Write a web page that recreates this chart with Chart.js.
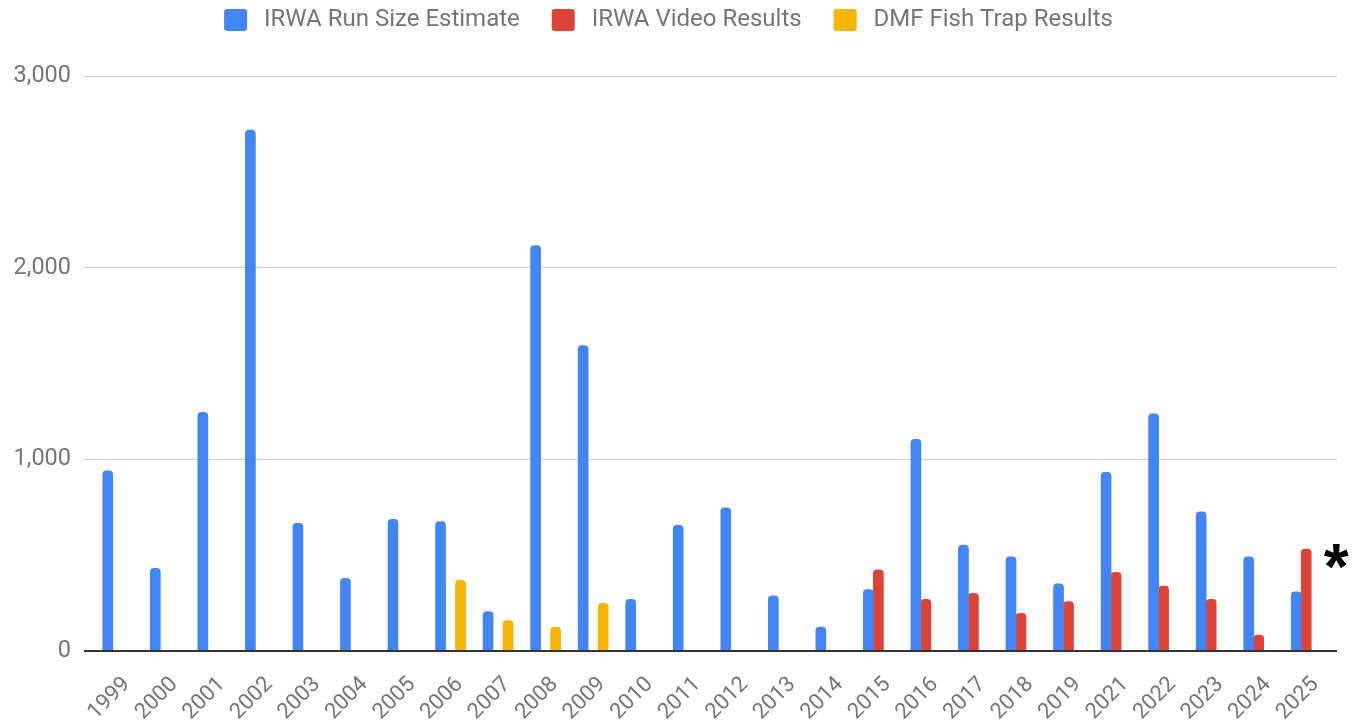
<!DOCTYPE html>
<html>
<head>
<meta charset="utf-8">
<script src="https://cdn.jsdelivr.net/npm/chart.js@4.4.0/dist/chart.umd.min.js"></script>
<style>
  html, body { margin: 0; padding: 0; background: #fff; }
</style>
</head>
<body>
<canvas id="myChart" width="1354" height="720"></canvas>
<script>
const years = ['1999', '2000', '2001', '2002', '2003', '2004', '2005', '2006', '2007', '2008',
  '2009', '2010', '2011', '2012', '2013', '2014', '2015', '2016', '2017', '2018', '2019',
  '2021', '2022', '2023', '2024', '2025'];
const runSize = [940, 430, 1245, 2720, 666, 378, 686, 674, 204, 2116,
  1594, 269, 655, 747, 287, 124, 319, 1104, 552, 491, 350,
  932, 1237, 726, 491, 308];
const videoResults = [null, null, null, null, null, null, null, null, null, null,
  null, null, null, null, null, null, 422, 269, 300, 195, 256,
  410, 338, 269, 82, 531];
const trapResults = [null, null, null, null, null, null, null, 368, 157, 122,
  248, null, null, null, null, null, null, null, null, null, null,
  null, null, null, null, null];
const yTicks = [0, 1000, 2000, 3000];
const note = '*';

const grey = '#757575';
const gridColor = c => (c.tick && c.tick.value === 0 ? '#333333' : '#cccccc');
const gridWidth = c => (c.tick && c.tick.value === 0 ? 2 : 1);

// push the plot area down under the legend
const legendSpace = {
  id: 'legendSpace',
  beforeInit(chart) {
    const fit = chart.legend.fit;
    chart.legend.fit = function () {
      fit.bind(chart.legend)();
      this.height = 100.5;
    };
  }
};

// the asterisk next to the 2025 bars
const notePlugin = {
  id: 'note',
  afterDatasetsDraw(chart) {
    const meta = chart.getDatasetMeta(1);
    const bar = meta.data[meta.data.length - 1];
    const ctx = chart.ctx;
    ctx.save();
    ctx.font = 'bold 64px "Liberation Sans"';
    ctx.fillStyle = '#000';
    ctx.textAlign = 'center';
    ctx.textBaseline = 'alphabetic';
    ctx.fillText(note, bar.x + 30, bar.y + 40);
    ctx.restore();
  }
};

const barStyle = { barThickness: 10, borderRadius: 4, borderWidth: 0 };

new Chart(document.getElementById('myChart'), {
  type: 'bar',
  data: {
    labels: years,
    datasets: [
      { label: 'IRWA Run Size Estimate', data: runSize, backgroundColor: '#4285f4', ...barStyle },
      { label: 'IRWA Video Results', data: videoResults, backgroundColor: '#db4437', ...barStyle },
      { label: 'DMF Fish Trap Results', data: trapResults, backgroundColor: '#f4b400', ...barStyle }
    ]
  },
  options: {
    responsive: false,
    animation: false,
    layout: { padding: { top: -24, right: 17, bottom: 0, left: 0 } },
    plugins: {
      tooltip: { enabled: false },
      legend: {
        position: 'top',
        labels: {
          boxWidth: 23,
          boxHeight: 22,
          padding: 32,
          useBorderRadius: true,
          borderRadius: 3,
          color: grey,
          font: { family: 'Roboto', size: 24 },
          generateLabels(chart) {
            const items = Chart.defaults.plugins.legend.labels.generateLabels(chart);
            items.forEach(it => { it.text = '\u2009' + it.text; it.lineWidth = 0; });
            return items;
          }
        }
      }
    },
    scales: {
      x: {
        grid: { display: false },
        border: { display: false },
        ticks: {
          color: grey,
          font: { family: 'Roboto', size: 22 },
          minRotation: 45,
          maxRotation: 45,
          autoSkip: false,
          padding: 13,
          labelOffset: 9
        },
        afterFit(scale) { scale.height = 69.3; }
      },
      y: {
        min: 0,
        max: 3000,
        border: { display: false },
        grid: { color: gridColor, lineWidth: gridWidth, tickLength: 10, drawTicks: true },
        ticks: {
          color: grey,
          font: { family: 'Roboto', size: 23.5 },
          padding: 13,
          callback: v => v.toLocaleString('en-US')
        },
        afterBuildTicks(scale) { scale.ticks = yTicks.map(v => ({ value: v })); },
        afterFit(scale) { scale.width = 94; }
      },
      yRight: {
        position: 'right',
        min: 0,
        max: 3000,
        border: { display: false },
        grid: { color: gridColor, lineWidth: gridWidth, tickLength: 7, drawOnChartArea: false },
        ticks: { display: false },
        afterBuildTicks(scale) { scale.ticks = yTicks.map(v => ({ value: v })); },
        afterFit(scale) { scale.width = 7; }
      }
    }
  },
  plugins: [legendSpace, notePlugin]
});
</script>
</body>
</html>
